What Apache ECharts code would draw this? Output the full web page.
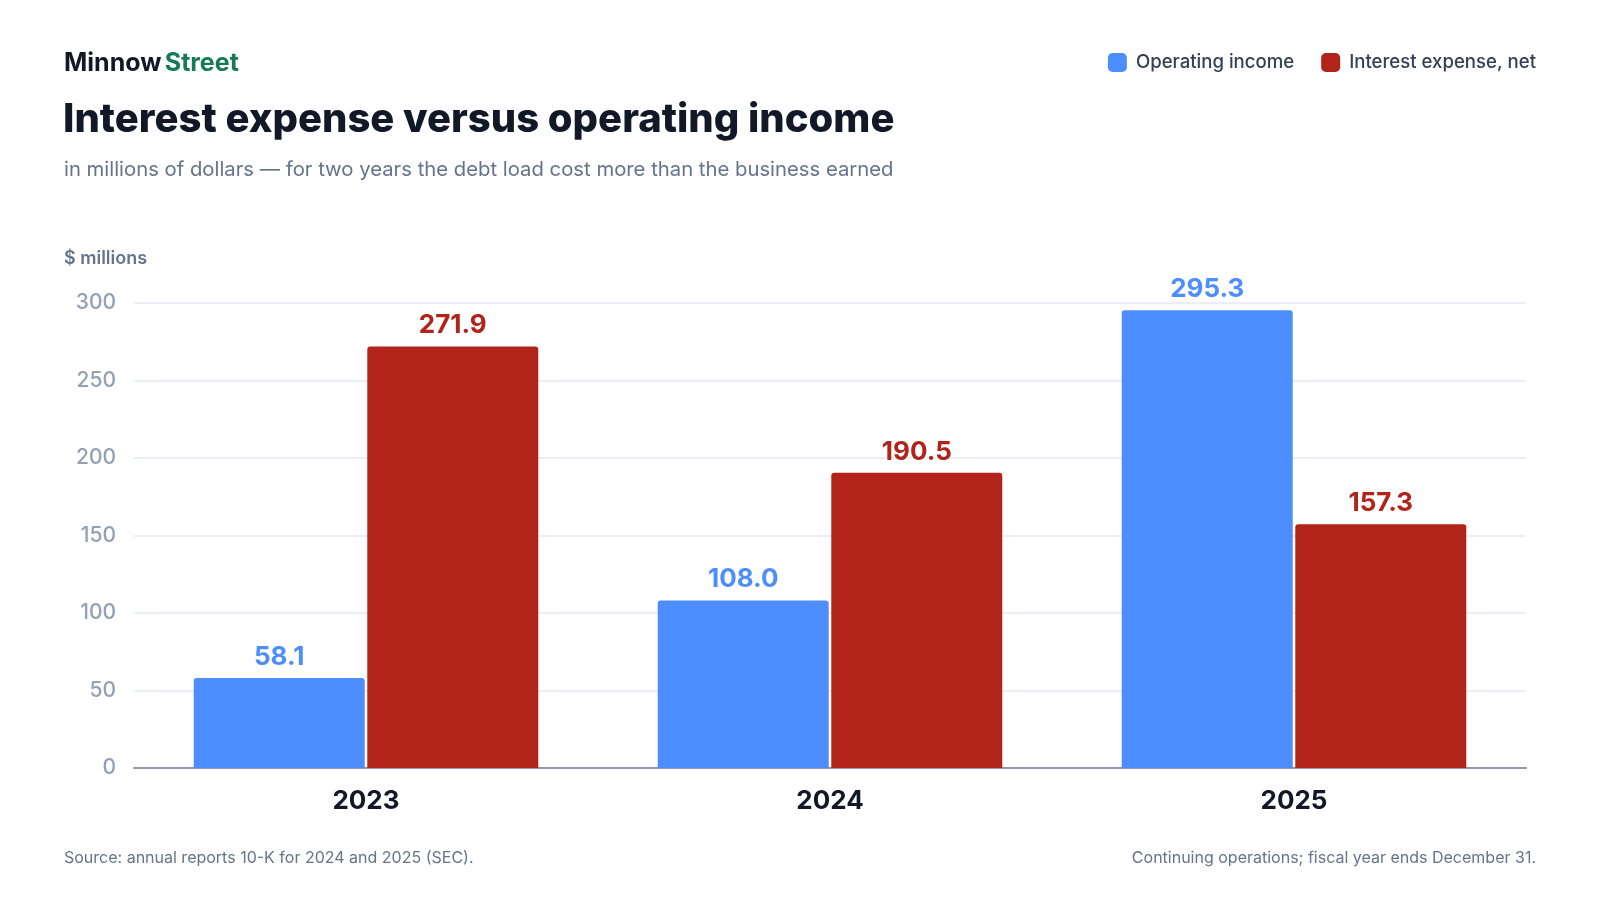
<!DOCTYPE html>
<html>
<head>
<meta charset="utf-8">
<script src="https://cdn.jsdelivr.net/npm/echarts@6/dist/echarts.min.js"></script>
<style>
  html, body { margin: 0; padding: 0; background: #fff; }
  #chart { width: 1600px; height: 900px; }
</style>
</head>
<body>
<div id="chart"></div>
<script>
var years = ['2023', '2024', '2025'];
var operatingIncome = [58.1, 108.0, 295.3];
var interestExpense = [271.9, 190.5, 157.3];
var yTicks = [0, 50, 100, 150, 200, 250, 300];

var BLUE = '#4d8eff';
var RED = '#b2231a';
var FONT = 'Inter, "Noto Sans", sans-serif';

var myChart = echarts.init(document.getElementById('chart'));

// labels on top of bars, same colour as the bar
function barLabel(color) {
	return {
		show: true,
		position: 'top',
		distance: 8,
		formatter: function (p) { return p.value.toFixed(1); },
		color: color,
		fontFamily: FONT,
		fontWeight: 'bold',
		fontSize: 26
	};
}

myChart.setOption({
	animation: false,
	textStyle: { fontFamily: FONT },
	legend: {
		top: 48,
		right: 59,
		itemWidth: 19,
		itemHeight: 19,
		itemGap: 27,
		icon: 'roundRect',
		textStyle: { color: '#334155', fontSize: 18.6, fontWeight: 500, fontFamily: FONT, padding: [0, 0, 0, 4] },
		data: ['Operating income', 'Interest expense, net']
	},
	grid: { left: 134, right: 74, top: 303, bottom: 132, containLabel: false },
	xAxis: {
		type: 'category',
		data: years,
		axisTick: { show: false },
		axisLine: { lineStyle: { color: '#8f99ab', width: 2 } },
		axisLabel: { color: '#111827', fontSize: 26, fontWeight: 'bold', margin: 20, fontFamily: FONT }
	},
	yAxis: {
		type: 'value',
		min: yTicks[0],
		max: yTicks[yTicks.length - 1],
		interval: 50,
		axisLine: { show: false },
		axisTick: { show: false },
		splitLine: { lineStyle: { color: '#e5e9f0', width: 1.5 } },
		axisLabel: { color: '#94a0b4', fontSize: 21, fontWeight: 500, margin: 18, fontFamily: FONT }
	},
	series: [
		{
			name: 'Operating income',
			type: 'bar',
			data: operatingIncome,
			barWidth: 171,
			barGap: '1.5%',
			itemStyle: { color: BLUE, borderRadius: [3, 3, 0, 0] },
			label: barLabel(BLUE)
		},
		{
			name: 'Interest expense, net',
			type: 'bar',
			data: interestExpense,
			barWidth: 171,
			itemStyle: { color: RED, borderRadius: [3, 3, 0, 0] },
			label: barLabel(RED)
		}
	],
	graphic: [
		{
			type: 'text', left: 64, top: 51,
			style: {
				rich: {
					a: { fill: '#111827', fontSize: 25, fontWeight: 'bold', fontFamily: FONT },
					b: { fill: '#167a55', fontSize: 25, fontWeight: 'bold', fontFamily: FONT }
				},
				text: '{a|Minnow} {b|Street}'
			}
		},
		{
			type: 'text', left: 63, top: 100,
			style: { text: 'Interest expense versus operating income', fill: '#111827', fontSize: 40, fontWeight: 800, fontFamily: FONT }
		},
		{
			type: 'text', left: 64, top: 160,
			style: { text: 'in millions of dollars \u2014 for two years the debt load cost more than the business earned', fill: '#64748b', fontSize: 20.3, fontFamily: FONT }
		},
		{
			type: 'text', left: 64, top: 250,
			style: { text: '$ millions', fill: '#64748b', fontSize: 18, fontWeight: 600, fontFamily: FONT }
		},
		{
			type: 'text', left: 64, top: 850,
			style: { text: 'Source: annual reports 10-K for 2024 and 2025 (SEC).', fill: '#64748b', fontSize: 16, fontFamily: FONT }
		},
		{
			type: 'text', right: 64, top: 850,
			style: { text: 'Continuing operations; fiscal year ends December 31.', fill: '#64748b', fontSize: 16, fontFamily: FONT }
		}
	]
});
</script>
</body>
</html>
